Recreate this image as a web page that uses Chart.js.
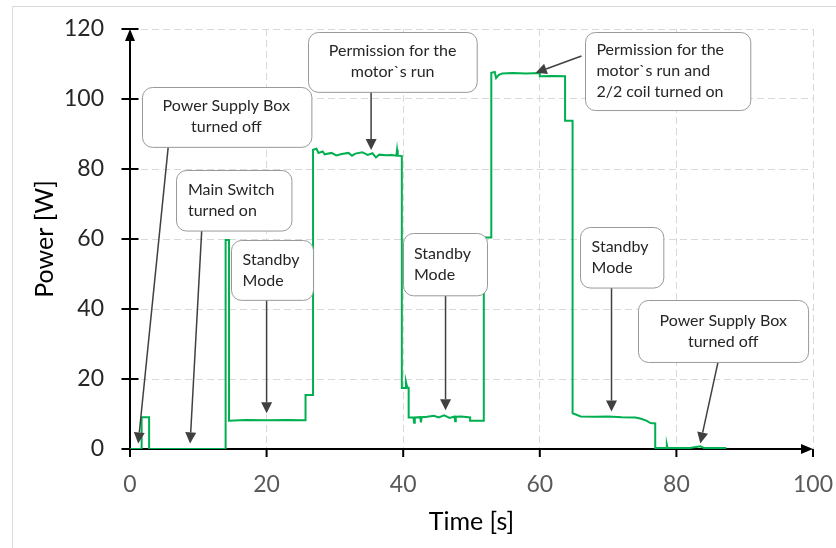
<!DOCTYPE html>
<html>
<head>
<meta charset="utf-8">
<script src="https://cdn.jsdelivr.net/npm/chart.js@4.4.1/dist/chart.umd.min.js"></script>
<style>
  html, body { margin: 0; padding: 0; background: #fff; }
  #wrap { width: 836px; height: 548px; }
</style>
</head>
<body>
<div id="wrap"><canvas id="chart" width="836" height="548"></canvas></div>
<script>
const timeS = [
  0, 1.7, 1.7, 2.8, 2.8, 14.0, 14.0, 14.5, 14.5, 17, 20, 23, 25.7, 25.7, 26.8, 26.8,
  27.3, 27.6, 28.2, 28.5, 29.5, 30.2, 31, 32, 32.5, 33, 34, 34.8, 35.5, 36, 36.5, 37.5,
  38.3, 39.0, 39.1, 39.2, 39.8, 39.8, 40.4, 40.4, 40.6, 40.8, 40.8, 41.5, 41.6, 41.7,
  42.5, 42.6, 42.7, 43.5, 44.5, 45.2, 46, 46.8, 47.5, 47.6, 47.7, 48.5, 49.8, 49.8,
  51.8, 51.8, 52.9, 52.9, 53.4, 53.6, 54, 54.5, 56, 58, 60, 60, 62, 63.7, 63.7, 64.8,
  64.8, 66, 68, 70, 72, 74, 74.7, 75.6, 76.2, 76.9, 76.9, 78.5, 78.6, 78.7, 80, 82,
  83.5, 84, 87.3
];
const powerW = [
  0, 0, 9.1, 9.1, 0, 0, 59.7, 59.7, 8.1, 8.3, 8.2, 8.3, 8.2, 15.4, 15.4, 85.5,
  85.8, 84.6, 85.0, 84.2, 84.6, 83.9, 84.3, 84.6, 83.8, 84.4, 84.8, 84.0, 84.5, 83.3, 84.1, 83.9,
  84.0, 83.8, 85.5, 83.8, 83.7, 17.4, 17.4, 19.2, 17.5, 17.5, 9.0, 9.0, 7.5, 9.0,
  9.1, 7.6, 9.1, 9.2, 9.5, 9.0, 9.6, 8.9, 9.3, 7.9, 9.2, 9.3, 9.0, 8.1,
  8.1, 60.4, 60.4, 107.5, 107.7, 106.0, 106.9, 107.3, 107.4, 107.3, 107.4, 106.5, 106.6, 106.5, 93.8, 93.8,
  10.2, 9.3, 9.2, 9.3, 9.1, 9.0, 8.7, 8.1, 7.4, 7.3, 0.3, 0.3, 1.2, 0.3, 0.3, 0.3,
  0.8, 0.3, 0.3
];
const xTicks = [0, 20, 40, 60, 80, 100];
const yTicks = [0, 20, 40, 60, 80, 100, 120];

// callouts in data units: box = [tLeft, tRight, wTop, wBottom], arrow from -> to
const callouts = [
  { lines: ['Power Supply Box', 'turned off'], align: 'center', box: [1.7, 26.5, 103.5, 86.4], from: [5.6, 86.4], to: [1.2, 1.6] },
  { lines: ['Main Switch', 'turned on'], align: 'left', box: [6.8, 23.7, 79.7, 62.4], from: [10.5, 62.4], to: [8.8, 1.6] },
  { lines: ['Standby', 'Mode'], align: 'left', box: [14.8, 26.8, 59.7, 42.6], from: [20.0, 42.6], to: [20.0, 10.2] },
  { lines: ['Permission for the', 'motor`s run'], align: 'center', box: [26.1, 50.8, 119.2, 102.1], from: [35.3, 102.1], to: [35.3, 85.4] },
  { lines: ['Standby', 'Mode'], align: 'left', box: [39.9, 52.2, 61.6, 43.8], from: [46.2, 43.8], to: [46.2, 11.1] },
  { lines: ['Permission for the', 'motor`s run and', '2/2 coil turned on'], align: 'left', box: [66.6, 90.8, 119.2, 96.9], from: [66.1, 112.3], to: [59.4, 107.5] },
  { lines: ['Standby', 'Mode'], align: 'left', box: [65.9, 78.1, 63.5, 46.2], from: [70.5, 46.2], to: [70.5, 10.7] },
  { lines: ['Power Supply Box', 'turned off'], align: 'center', box: [74.4, 99.3, 42.6, 24.9], from: [86.1, 24.9], to: [83.5, 1.6] }
];

Chart.defaults.font.family = 'Lato, sans-serif';

const framePlugin = {
  id: 'frame',
  beforeDraw(chart) {
    const c = chart.ctx;
    c.save();
    c.fillStyle = '#fff';
    c.fillRect(0, 0, chart.width, chart.height);
    c.strokeStyle = '#d9d9d9';
    c.lineWidth = 1;
    c.beginPath();
    c.moveTo(12.5, chart.height);
    c.lineTo(12.5, 6.5);
    c.lineTo(chart.width, 6.5);
    c.stroke();
    c.restore();
  }
};

// black axes with crossing ticks and arrow heads, under the trace
const axesPlugin = {
  id: 'axes',
  beforeDatasetsDraw(chart) {
    const c = chart.ctx, sx = chart.scales.x, sy = chart.scales.y;
    const x0 = sx.getPixelForValue(0), y0 = sy.getPixelForValue(0);
    const xEnd = sx.getPixelForValue(xTicks[xTicks.length - 1]);
    const yTop = sy.getPixelForValue(yTicks[yTicks.length - 1]);
    c.save();
    c.strokeStyle = '#000';
    c.fillStyle = '#000';
    c.lineWidth = 2;
    c.beginPath();
    c.moveTo(x0, y0 + 8); c.lineTo(x0, yTop + 8);
    c.moveTo(x0 - 8, y0); c.lineTo(xEnd - 8, y0);
    yTicks.forEach(v => {
      const p = sy.getPixelForValue(v);
      c.moveTo(x0 - 8.5, p); c.lineTo(x0 + 8.5, p);
    });
    xTicks.forEach(v => {
      if (v === 0) return;
      const p = sx.getPixelForValue(v);
      c.moveTo(p, y0); c.lineTo(p, y0 + 8);
    });
    c.stroke();
    c.beginPath();
    c.moveTo(x0, yTop); c.lineTo(x0 - 5, yTop + 12); c.lineTo(x0 + 5, yTop + 12);
    c.closePath(); c.fill();
    c.beginPath();
    c.moveTo(xEnd, y0); c.lineTo(xEnd - 12, y0 - 5); c.lineTo(xEnd - 12, y0 + 5);
    c.closePath(); c.fill();
    c.restore();
  }
};

const calloutPlugin = {
  id: 'callouts',
  afterDatasetsDraw(chart) {
    const c = chart.ctx, sx = chart.scales.x, sy = chart.scales.y;
    c.save();
    callouts.forEach(k => {
      const l = sx.getPixelForValue(k.box[0]), r = sx.getPixelForValue(k.box[1]);
      const t = sy.getPixelForValue(k.box[2]), b = sy.getPixelForValue(k.box[3]);
      const ax = sx.getPixelForValue(k.from[0]), ay = sy.getPixelForValue(k.from[1]);
      const bx = sx.getPixelForValue(k.to[0]), by = sy.getPixelForValue(k.to[1]);
      const ang = Math.atan2(by - ay, bx - ax), hl = 11, hw = 5.5;
      const cx = bx - hl * Math.cos(ang), cy = by - hl * Math.sin(ang);
      c.strokeStyle = '#404040';
      c.fillStyle = '#404040';
      c.lineWidth = 1.5;
      c.beginPath(); c.moveTo(ax, ay); c.lineTo(cx, cy); c.stroke();
      c.beginPath();
      c.moveTo(bx, by);
      c.lineTo(cx + hw * Math.sin(ang), cy - hw * Math.cos(ang));
      c.lineTo(cx - hw * Math.sin(ang), cy + hw * Math.cos(ang));
      c.closePath(); c.fill();

      c.beginPath();
      c.roundRect(Math.round(l) + 0.5, Math.round(t) + 0.5, r - l, b - t, 10);
      c.fillStyle = '#fff'; c.fill();
      c.strokeStyle = '#999'; c.lineWidth = 1; c.stroke();

      c.fillStyle = '#262626';
      c.font = '16px Lato';
      c.textBaseline = 'middle';
      const lh = 21, mid = (t + b) / 2;
      k.lines.forEach((s, i) => {
        const yy = mid + (i - (k.lines.length - 1) / 2) * lh;
        if (k.align === 'center') { c.textAlign = 'center'; c.fillText(s, (l + r) / 2, yy); }
        else { c.textAlign = 'left'; c.fillText(s, l + 11.5, yy); }
      });
    });
    c.restore();
  }
};

new Chart(document.getElementById('chart'), {
  type: 'line',
  data: {
    datasets: [{
      data: timeS.map((t, i) => ({ x: t, y: powerW[i] })),
      borderColor: '#00b050',
      borderWidth: 2,
      pointRadius: 0,
      tension: 0,
      fill: false
    }]
  },
  options: {
    responsive: false,
    animation: false,
    layout: { padding: { top: 29, right: 23, left: 0, bottom: 0 } },
    plugins: { legend: { display: false }, tooltip: { enabled: false } },
    scales: {
      x: {
        type: 'linear', min: 0, max: 100,
        afterBuildTicks: s => { s.ticks = xTicks.map(v => ({ value: v })); },
        afterFit: s => { s.height = 99; },
        grid: { color: '#d9d9d9', drawTicks: true, tickLength: 22, tickColor: 'rgba(0,0,0,0)' },
        border: { display: false, dash: [7, 4] },
        ticks: { color: '#595959', font: { size: 23 }, padding: 0, maxRotation: 0 },
        title: { display: true, text: 'Time [s]', color: '#000', font: { size: 25 }, padding: { top: 0, bottom: 11 } }
      },
      y: {
        min: 0, max: 120,
        afterBuildTicks: s => { s.ticks = yTicks.map(v => ({ value: v })); },
        afterFit: s => { s.width = 130; },
        grid: { color: '#d9d9d9', drawTicks: true, tickLength: 26, tickColor: 'rgba(0,0,0,0)' },
        border: { display: false, dash: [7, 4] },
        ticks: { color: '#262626', font: { size: 23 }, padding: 0 },
        title: { display: true, text: 'Power [W]', color: '#000', font: { size: 25 }, padding: { top: 30, bottom: 0 } }
      }
    }
  },
  plugins: [framePlugin, axesPlugin, calloutPlugin]
});
</script>
</body>
</html>
